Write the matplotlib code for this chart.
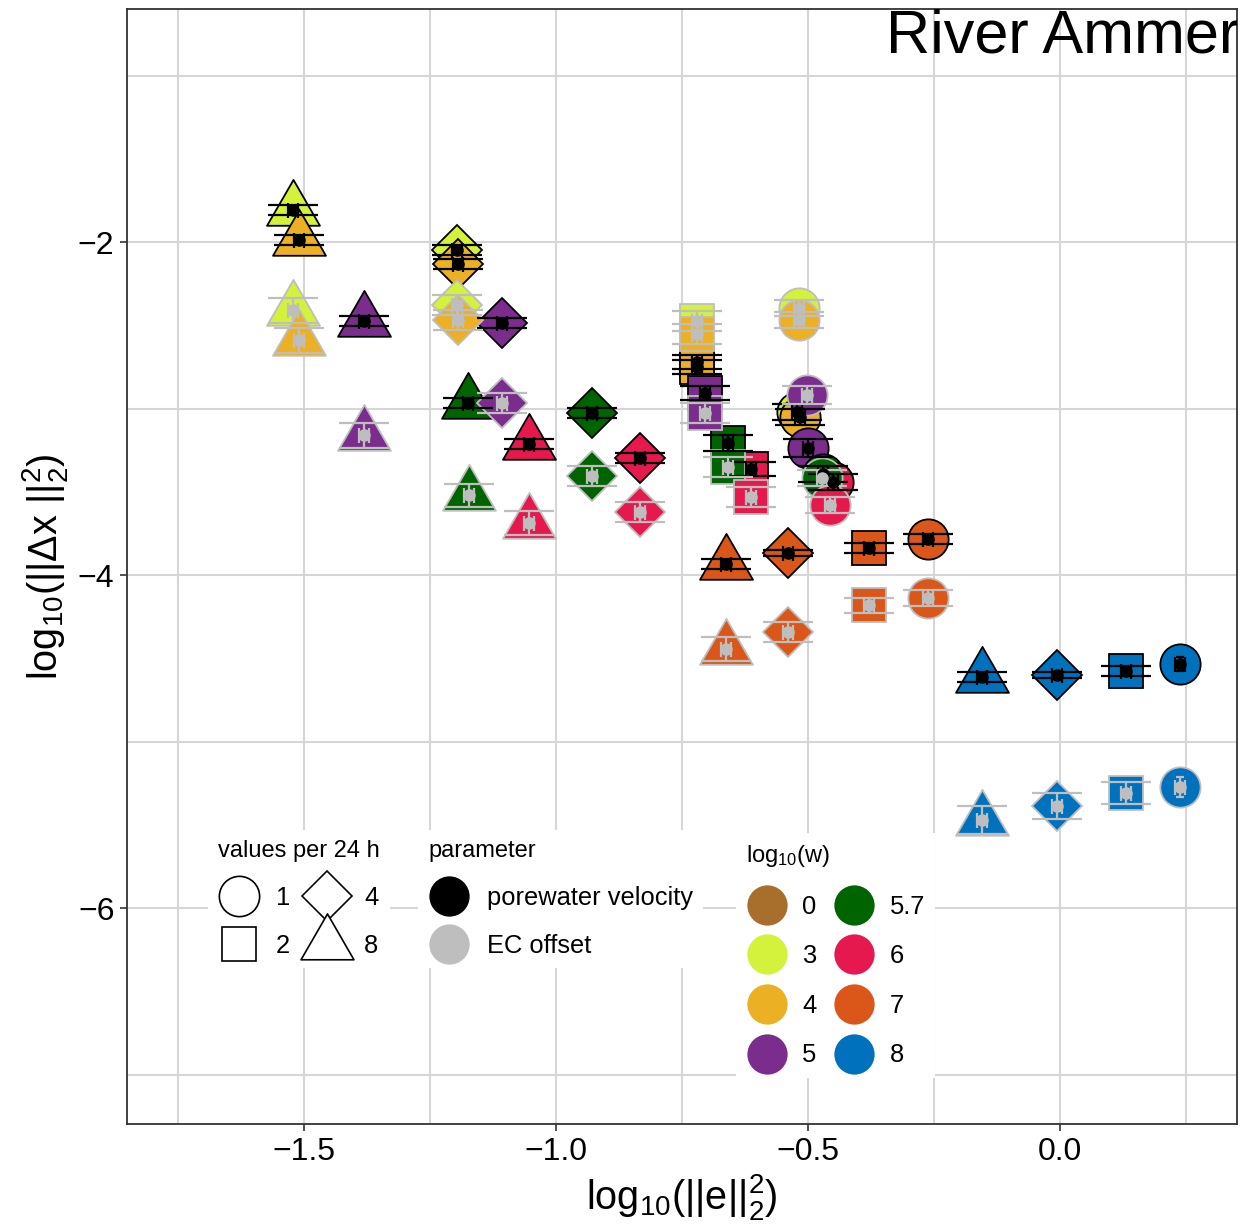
import matplotlib
matplotlib.use('Agg')
import matplotlib.pyplot as plt
from matplotlib.lines import Line2D
from matplotlib.markers import MarkerStyle
from matplotlib.path import Path
from matplotlib.ticker import MultipleLocator

plt.rcParams['font.family'] = ['Liberation Sans', 'DejaVu Sans']
plt.rcParams['mathtext.fontset'] = 'custom'
plt.rcParams['mathtext.rm'] = 'Liberation Sans'
plt.rcParams['mathtext.it'] = 'Liberation Sans:italic'
plt.rcParams['mathtext.bf'] = 'Liberation Sans:bold'

# log10(w) classes and fill colours
w_levels = ['0', '3', '4', '5', '5.7', '6', '7', '8']
w_colors = ['#A86E2C', '#D4F23B', '#ECB024', '#7B2D8E', '#006400', '#E6194E', '#DA5719', '#0072BD']

# values per 24 h
freq_levels = [1, 2, 4, 8]

# parameters
params = ['porewater velocity', 'EC offset']
param_colors = ['black', '#BEBEBE']

# each point: values per 24 h, log10(w)
pt_freq = [8] * 7 + [4] * 7 + [2] * 7 + [1] * 7
pt_w = ['3', '4', '5', '5.7', '6', '7', '8'] * 4

# porewater velocity: log10(||e||^2), log10(||dx||^2)
pv_x = [-1.522, -1.510, -1.381, -1.175, -1.054, -0.663, -0.155,
        -1.196, -1.194, -1.107, -0.929, -0.833, -0.540, -0.006,
        -0.720, -0.720, -0.704, -0.659, -0.613, -0.379, 0.131,
        -0.522, -0.516, -0.500, -0.470, -0.450, -0.262, 0.238]
pv_y = [-1.808, -1.988, -2.474, -2.967, -3.213, -3.934, -4.613,
        -2.048, -2.132, -2.486, -3.027, -3.297, -3.868, -4.601,
        -2.721, -2.751, -2.907, -3.207, -3.363, -3.838, -4.577,
        -3.021, -3.051, -3.237, -3.393, -3.441, -3.784, -4.535]
pv_xerr = [0.01] * 28
pv_yerr = [0.03, 0.03, 0.03, 0.03, 0.03, 0.03, 0.03,
           0.03, 0.03, 0.03, 0.03, 0.03, 0.02, 0.02,
           0.04, 0.04, 0.04, 0.05, 0.04, 0.03, 0.03,
           0.05, 0.05, 0.055, 0.05, 0.05, 0.03, 0.04]

# EC offset
ec_x = [-1.522, -1.510, -1.381, -1.173, -1.054, -0.663, -0.155,
        -1.196, -1.194, -1.107, -0.929, -0.833, -0.540, -0.006,
        -0.720, -0.720, -0.704, -0.659, -0.613, -0.379, 0.131,
        -0.518, -0.518, -0.502, -0.472, -0.456, -0.262, 0.238]
ec_y = [-2.408, -2.589, -3.159, -3.520, -3.688, -4.444, -5.471,
        -2.378, -2.468, -2.967, -3.405, -3.622, -4.342, -5.387,
        -2.474, -2.553, -3.027, -3.351, -3.532, -4.180, -5.309,
        -2.396, -2.468, -2.919, -3.417, -3.580, -4.138, -5.273]
ec_xerr = [0.01] * 28
ec_yerr = [0.075, 0.075, 0.075, 0.07, 0.07, 0.075, 0.085,
           0.06, 0.06, 0.06, 0.06, 0.06, 0.06, 0.08,
           0.06, 0.06, 0.06, 0.06, 0.06, 0.045, 0.065,
           0.05, 0.05, 0.055, 0.05, 0.05, 0.05, 0.06]

title_text = 'River Ammer'
x_ticks = [-1.5, -1.0, -0.5, 0.0]
x_tick_labels = ['\u22121.5', '\u22121.0', '\u22120.5', '0.0']
y_ticks = [-6, -4, -2]
y_tick_labels = ['\u22126', '\u22124', '\u22122']

# equilateral triangle centred on its centroid
tri_path = Path([(0, 1), (-0.866, -0.5), (0.866, -0.5), (0, 1)],
                [Path.MOVETO, Path.LINETO, Path.LINETO, Path.CLOSEPOLY])
shape_marker = {1: 'o', 2: 's', 4: 'D', 8: MarkerStyle(tri_path, joinstyle='miter')}
shape_size = {1: 29, 2: 25, 4: 25, 8: 44}
w_color = dict(zip(w_levels, w_colors))

fig = plt.figure(figsize=(12.46, 12.26), dpi=100)
ax = fig.add_axes([127 / 1246, 1 - 1124 / 1226, 1110 / 1246, 1115 / 1226])
ax.set_xlim(-1.851, 0.351)
ax.set_ylim(-7.297, -0.6)

series = [
    (pv_x, pv_y, pv_xerr, pv_yerr, param_colors[0]),
    (ec_x, ec_y, ec_xerr, ec_yerr, param_colors[1]),
]

# big shapes first, then error bars, then the centre dots
for xs, ys, xe, ye, pcol in series:
    for f, w, x, y in zip(pt_freq, pt_w, xs, ys):
        ax.plot([x], [y], ls='none', marker=shape_marker[f], ms=shape_size[f],
                mfc=w_color[w], mec=pcol, mew=1.3, zorder=3)

for xs, ys, xe, ye, pcol in series:
    for f, w, x, y, ex, ey in zip(pt_freq, pt_w, xs, ys, xe, ye):
        cap = 3 if (f == 1 and w == '8') else 18
        ax.errorbar([x], [y], yerr=[ey], fmt='none', ecolor=pcol, elinewidth=1.6,
                    capsize=cap, capthick=1.6, zorder=4)
        ax.errorbar([x], [y], xerr=[ex], fmt='none', ecolor=pcol, elinewidth=1.6,
                    capsize=5.4, capthick=1.6, zorder=4)

for xs, ys, xe, ye, pcol in series:
    ax.plot(xs, ys, ls='none', marker='o', ms=8, color=pcol, zorder=5)

ax.text(-0.345, -0.859, title_text, fontsize=44, ha='left', va='baseline',
        clip_on=True, zorder=6)

# axes styling
ax.set_xticks(x_ticks)
ax.set_xticklabels(x_tick_labels)
ax.set_yticks(y_ticks)
ax.set_yticklabels(y_tick_labels)
ax.xaxis.set_minor_locator(MultipleLocator(0.25))
ax.yaxis.set_minor_locator(MultipleLocator(1))
ax.set_axisbelow(True)
ax.grid(which='both', color='#D6D6D6', lw=1.5)
ax.tick_params(which='major', length=5, width=1.2, color='#333333',
               labelsize=23, labelcolor='black', pad=4)
ax.tick_params(which='minor', length=0)
for sp in ax.spines.values():
    sp.set_color('#333333')
    sp.set_linewidth(1.3)

ax.set_xlabel(r'$\mathrm{log_{10}(||e||_2^2)}$', fontsize=28.5, labelpad=4)
ax.set_ylabel(r'$\mathrm{log_{10}(||\Delta x\ ||_2^2)}$', fontsize=28.5, labelpad=6)

# legends
leg_kw = dict(loc='upper left', bbox_transform=fig.transFigure, fontsize=18.4,
              title_fontsize=17, alignment='left', frameon=True, facecolor='white',
              edgecolor='none', framealpha=1, fancybox=False, borderpad=0.4,
              borderaxespad=0, numpoints=1)

shape_handles = [Line2D([], [], ls='none', marker=shape_marker[f], ms=shape_size[f],
                        mfc='white', mec='black', mew=1.2) for f in freq_levels]
leg1 = ax.legend(handles=shape_handles, labels=[str(f) for f in freq_levels],
                 title='values per 24 h', ncol=2,
                 bbox_to_anchor=(208 / 1246, 1 - 830 / 1226),
                 handlelength=1.6, handletextpad=0.65, columnspacing=0.65,
                 labelspacing=0.93, **leg_kw)
ax.add_artist(leg1)

param_handles = [Line2D([], [], ls='none', marker='o', ms=29, mfc=c, mec='none')
                 for c in param_colors]
leg2 = ax.legend(handles=param_handles, labels=params, title='parameter',
                 bbox_to_anchor=(418 / 1246, 1 - 830 / 1226),
                 handlelength=1.6, handletextpad=0.7, labelspacing=0.93, **leg_kw)
ax.add_artist(leg2)

color_handles = [Line2D([], [], ls='none', marker='o', ms=29, mfc=c, mec='none')
                 for c in w_colors]
leg3 = ax.legend(handles=color_handles, labels=w_levels,
                 title=r'$\mathrm{log_{10}(w)}$', ncol=2,
                 bbox_to_anchor=(736 / 1246, 1 - 833 / 1226),
                 handlelength=1.6, handletextpad=0.58, columnspacing=0.69,
                 labelspacing=1.0, **leg_kw)

fig.savefig('out.png', dpi=100)
